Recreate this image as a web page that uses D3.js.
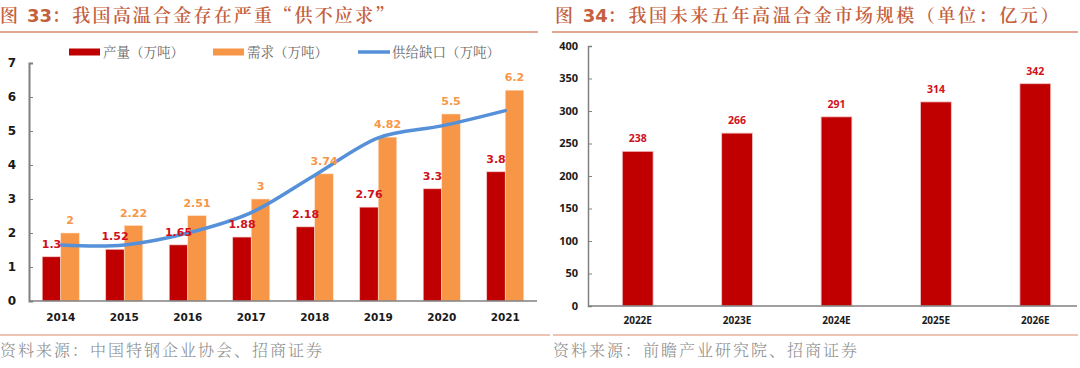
<!DOCTYPE html>
<html lang="zh">
  <head>
    <meta charset="utf-8" />
    <title>高温合金</title>
    <script src="https://d3js.org/d3.v7.min.js"></script>
    <style>
      body { margin: 0; background: #fff; }
      svg { display: block; }
      .cn { font-family: "Noto Serif CJK SC", "Noto Sans CJK SC", sans-serif; }
    </style>
  </head>
  <body>
    <svg id="chart" width="1080" height="368"></svg>
    <script>
      // left chart data
      var years = ["2014", "2015", "2016", "2017", "2018", "2019", "2020", "2021"];
      var production = [1.3, 1.52, 1.65, 1.88, 2.18, 2.76, 3.3, 3.8];
      var demand = [2, 2.22, 2.51, 3, 3.74, 4.82, 5.5, 6.2];
      var gap = [1.65, 1.65, 2.0, 2.6, 3.7, 4.8, 5.15, 5.6];
      var leftTicks = [0, 1, 2, 3, 4, 5, 6, 7];

      // right chart data
      var marketYears = ["2022E", "2023E", "2024E", "2025E", "2026E"];
      var marketSize = [238, 266, 291, 314, 342];
      var rightTicks = [0, 50, 100, 150, 200, 250, 300, 350, 400];

      var red = "#c00000",
        orange = "#f79646",
        blue = "#5590d9",
        titleColor = "#c4603d",
        ruleColor = "#d98a6a";

      var svg = d3.select("#chart");

      // titles and rules
      function header(x, num, text, spacing, x1, x2) {
        var t = svg
          .append("text")
          .attr("class", "cn")
          .attr("x", x)
          .attr("y", 22)
          .attr("fill", titleColor)
          .attr("font-size", 18)
          .attr("font-weight", 600)
          .attr("letter-spacing", spacing);
        t.append("tspan").text("图 ");
        t.append("tspan")
          .attr("font-family", "DejaVu Sans, sans-serif")
          .attr("font-weight", "bold")
          .attr("letter-spacing", 0)
          .text(num);
        t.append("tspan").text("：" + text);
        svg
          .append("line")
          .attr("x1", x1)
          .attr("x2", x2)
          .attr("y1", 32)
          .attr("y2", 32)
          .attr("stroke", ruleColor)
          .attr("stroke-width", 1.5);
      }
      header(0, "33", "我国高温合金存在严重“供不应求”", 2.2, 0, 538);
      header(555, "34", "我国未来五年高温合金市场规模（单位：亿元）", 2.6, 552, 1078);

      function footer(x, text, x1, x2) {
        svg
          .append("line")
          .attr("x1", x1)
          .attr("x2", x2)
          .attr("y1", 335)
          .attr("y2", 335)
          .attr("stroke", ruleColor)
          .attr("stroke-width", 1);
        svg
          .append("text")
          .attr("class", "cn")
          .attr("x", x)
          .attr("y", 356)
          .attr("fill", "#8a8a8a")
          .attr("font-size", 16)
          .attr("font-weight", 300)
          .attr("letter-spacing", 2)
          .text(text);
      }
      footer(0, "资料来源：中国特钢企业协会、招商证券", 0, 550);
      footer(553, "资料来源：前瞻产业研究院、招商证券", 553, 1078);

      // ---------- left chart ----------
      var x = d3.scaleBand().domain(years).range([29, 537]);
      var sub = d3.scaleBand().domain(["p", "d"]).range([-18.5, 18.5]);
      var y = d3.scaleLinear().domain([0, 7]).range([301, 63]);
      var cx = function (i) {
        return x(years[i]) + x.bandwidth() / 2;
      };

      var left = svg.append("g");

      var yAxis = left
        .append("g")
        .attr("transform", "translate(29,0)")
        .call(d3.axisRight(y).tickValues(leftTicks).tickSize(4).tickFormat(""));
      yAxis.selectAll("line, path").attr("stroke", "#808080");
      yAxis.select(".domain").attr("stroke-width", 2);

      left
        .selectAll(".ytick")
        .data(leftTicks)
        .enter()
        .append("text")
        .attr("x", 12)
        .attr("y", (d) => y(d))
        .attr("dy", "0.36em")
        .attr("text-anchor", "middle")
        .attr("font-family", "DejaVu Sans, sans-serif")
        .attr("font-weight", "bold")
        .attr("font-size", 12)
        .attr("fill", "#1a1a1a")
        .text((d) => d);

      left
        .selectAll(".bar-p")
        .data(production)
        .enter()
        .append("rect")
        .attr("x", (d, i) => cx(i) + sub("p"))
        .attr("y", (d) => y(d))
        .attr("width", sub.bandwidth())
        .attr("height", (d) => y(0) - y(d))
        .attr("fill", red)
        .attr("stroke", "#f3c6c6")
        .attr("stroke-width", 0.6);

      left
        .selectAll(".bar-d")
        .data(demand)
        .enter()
        .append("rect")
        .attr("x", (d, i) => cx(i) + sub("d"))
        .attr("y", (d) => y(d))
        .attr("width", sub.bandwidth())
        .attr("height", (d) => y(0) - y(d))
        .attr("fill", orange)
        .attr("stroke", "#fde0c8")
        .attr("stroke-width", 0.6);

      left
        .append("line")
        .attr("x1", 29)
        .attr("x2", 537)
        .attr("y1", y(0))
        .attr("y2", y(0))
        .attr("stroke", "#808080")
        .attr("stroke-width", 1.5);

      // smoothed like the spreadsheet line
      var line = d3
        .line()
        .x((d, i) => cx(i))
        .y((d) => y(d))
        .curve(d3.curveCatmullRom.alpha(0));
      left
        .append("path")
        .datum(gap)
        .attr("d", line)
        .attr("fill", "none")
        .attr("stroke", blue)
        .attr("stroke-width", 3.5)
        .attr("stroke-linecap", "round");

      function labels(data, key, color) {
        left
          .selectAll(".lab-" + key)
          .data(data)
          .enter()
          .append("text")
          .attr("x", (d, i) => cx(i) + sub(key) + sub.bandwidth() / 2)
          .attr("y", (d) => y(d) - 9)
          .attr("text-anchor", "middle")
          .attr("font-family", "DejaVu Sans, sans-serif")
          .attr("font-weight", "bold")
          .attr("font-size", 11)
          .attr("fill", color)
          .text((d) => d);
      }
      labels(production, "p", "#d0101c");
      labels(demand, "d", orange);

      left
        .selectAll(".xlab")
        .data(years)
        .enter()
        .append("text")
        .attr("x", (d) => x(d) + x.bandwidth() / 2)
        .attr("y", 321)
        .attr("text-anchor", "middle")
        .attr("font-family", "DejaVu Sans, sans-serif")
        .attr("font-weight", "bold")
        .attr("font-size", 10.5)
        .attr("fill", "#1a1a1a")
        .text((d) => d);

      // legend
      var legendItems = [
        { name: "产量（万吨）", color: red, x: 69, type: "rect" },
        { name: "需求（万吨）", color: orange, x: 213, type: "rect" },
        { name: "供给缺口（万吨）", color: blue, x: 358, type: "line" }
      ];
      var legend = left
        .selectAll(".legend")
        .data(legendItems)
        .enter()
        .append("g")
        .attr("transform", (d) => "translate(" + d.x + ",52)");
      legend
        .filter((d) => d.type === "rect")
        .append("rect")
        .attr("y", -3.5)
        .attr("width", 31)
        .attr("height", 7)
        .attr("fill", (d) => d.color);
      legend
        .filter((d) => d.type === "line")
        .append("line")
        .attr("x2", 32)
        .attr("stroke", (d) => d.color)
        .attr("stroke-width", 3.5);
      legend
        .append("text")
        .attr("class", "cn")
        .attr("x", 34)
        .attr("dy", "0.36em")
        .attr("font-size", 13.5)
        .attr("fill", "#6b6b6b")
        .text((d) => d.name);

      // ---------- right chart ----------
      var xr = d3.scaleBand().domain(marketYears).range([588, 1085]).paddingInner(0.69).paddingOuter(0.345);
      var yr = d3.scaleLinear().domain([0, 400]).range([306, 46]);

      var right = svg.append("g");

      var yrAxis = right
        .append("g")
        .attr("transform", "translate(588,0)")
        .call(d3.axisRight(yr).tickValues(rightTicks).tickSize(4).tickFormat(""));
      yrAxis.selectAll("line, path").attr("stroke", "#808080");
      yrAxis.select(".domain").attr("stroke-width", 1.5);

      right
        .selectAll(".ytick")
        .data(rightTicks)
        .enter()
        .append("text")
        .attr("x", 578)
        .attr("y", (d) => yr(d))
        .attr("dy", "0.36em")
        .attr("text-anchor", "end")
        .attr("font-family", "Open Sans, sans-serif")
        .attr("font-weight", "bold")
        .attr("font-size", 11)
        .attr("fill", "#1a1a1a")
        .text((d) => d);

      right
        .selectAll(".bar")
        .data(marketSize)
        .enter()
        .append("rect")
        .attr("x", (d, i) => xr(marketYears[i]))
        .attr("y", (d) => yr(d))
        .attr("width", xr.bandwidth())
        .attr("height", (d) => yr(0) - yr(d))
        .attr("fill", red)
        .attr("stroke", "#f3c6c6")
        .attr("stroke-width", 0.8);

      right
        .selectAll(".lab")
        .data(marketSize)
        .enter()
        .append("text")
        .attr("x", (d, i) => xr(marketYears[i]) + xr.bandwidth() / 2)
        .attr("y", (d) => yr(d) - 9)
        .attr("text-anchor", "middle")
        .attr("font-family", "Open Sans, sans-serif")
        .attr("font-weight", "bold")
        .attr("font-size", 10.5)
        .attr("fill", "#d0101c")
        .text((d) => d);

      right
        .append("line")
        .attr("x1", 588)
        .attr("x2", 1077)
        .attr("y1", yr(0))
        .attr("y2", yr(0))
        .attr("stroke", "#808080")
        .attr("stroke-width", 1.5);

      right
        .selectAll(".xlab")
        .data(marketYears)
        .enter()
        .append("text")
        .attr("x", (d) => xr(d) + xr.bandwidth() / 2)
        .attr("y", 324)
        .attr("text-anchor", "middle")
        .attr("font-family", "Open Sans, sans-serif")
        .attr("font-weight", "bold")
        .attr("font-size", 10)
        .attr("fill", "#1a1a1a")
        .text((d) => d);
    </script>
  </body>
</html>
